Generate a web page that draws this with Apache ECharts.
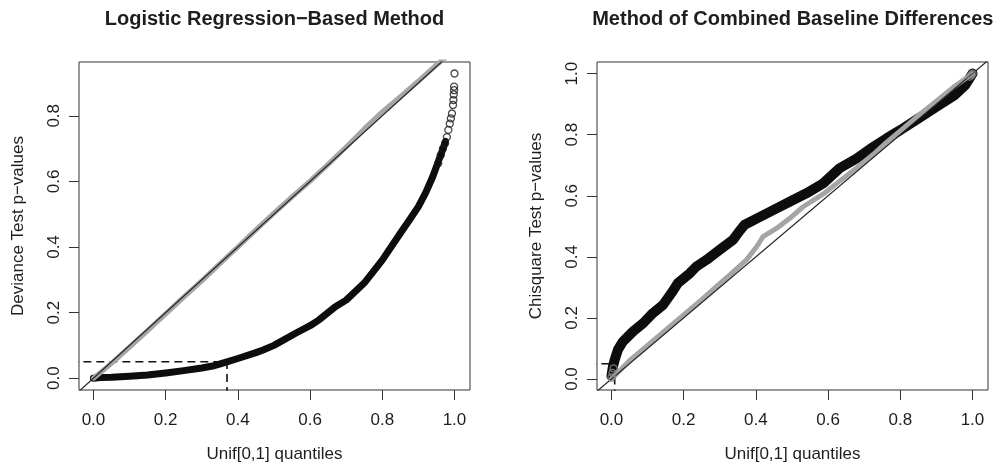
<!DOCTYPE html>
<html>
<head>
<meta charset="utf-8">
<script src="https://cdn.jsdelivr.net/npm/echarts@6/dist/echarts.min.js"></script>
<style>
html,body{margin:0;padding:0;background:#fff;}
#c{width:995px;height:463px;}
</style>
</head>
<body>
<div id="c"></div>
<script>
// ---------- tick labels ----------
const xTicks = [0, 0.2, 0.4, 0.6, 0.8, 1.0];
const leftYTicks = [0, 0.2, 0.4, 0.6, 0.8];
const rightYTicks = [0, 0.2, 0.4, 0.6, 0.8, 1.0];

// ---------- reference lines ----------
const alpha = 0.05;          // significance level (dashed horizontal)
const leftCutoff = 0.37;     // quantile where black curve reaches alpha (left)
const rightCutoff = 0.009;   // quantile where black curve reaches alpha (right)
const diagonal = [-0.1, 1.1];

// ---------- left panel: Logistic Regression-Based Method ----------
const leftBlackX = [0.00, 0.02, 0.05, 0.10, 0.15, 0.20, 0.25, 0.30, 0.33, 0.37, 0.40, 0.45, 0.47, 0.50, 0.56, 0.60, 0.625, 0.67, 0.70, 0.75, 0.80, 0.85, 0.88, 0.90, 0.92, 0.94, 0.95, 0.96, 0.97, 0.975];
const leftBlackY = [0.000, 0.002, 0.003, 0.006, 0.010, 0.016, 0.023, 0.031, 0.037, 0.050, 0.060, 0.078, 0.086, 0.100, 0.137, 0.160, 0.178, 0.218, 0.238, 0.290, 0.360, 0.442, 0.490, 0.523, 0.565, 0.615, 0.645, 0.675, 0.705, 0.722];
const leftTailX = [0.955, 0.962, 0.968, 0.974, 0.979, 0.983, 0.987, 0.990, 0.993, 0.996, 0.997, 0.998, 0.999, 0.999, 1.000];
const leftTailY = [0.655, 0.680, 0.700, 0.716, 0.735, 0.757, 0.776, 0.792, 0.807, 0.833, 0.848, 0.865, 0.878, 0.889, 0.929];
const leftGreyX = [0.00, 0.05, 0.10, 0.15, 0.20, 0.25, 0.30, 0.35, 0.40, 0.45, 0.50, 0.55, 0.60, 0.65, 0.70, 0.75, 0.80, 0.85, 0.90, 0.95, 1.00];
const leftGreyY = [0.000, 0.045, 0.095, 0.145, 0.196, 0.247, 0.297, 0.349, 0.400, 0.452, 0.503, 0.553, 0.601, 0.652, 0.705, 0.760, 0.812, 0.858, 0.906, 0.955, 1.000];

// ---------- right panel: Method of Combined Baseline Differences ----------
const rightBlackX = [0.000, 0.004, 0.009, 0.018, 0.032, 0.060, 0.088, 0.115, 0.143, 0.166, 0.184, 0.217, 0.235, 0.263, 0.300, 0.337, 0.355, 0.369, 0.402, 0.448, 0.503, 0.540, 0.586, 0.632, 0.679, 0.725, 0.762, 0.800, 0.850, 0.900, 0.950, 0.980, 1.000];
const rightBlackY = [0.010, 0.040, 0.063, 0.096, 0.123, 0.156, 0.183, 0.216, 0.243, 0.281, 0.314, 0.346, 0.368, 0.390, 0.423, 0.456, 0.485, 0.505, 0.525, 0.553, 0.586, 0.608, 0.640, 0.690, 0.722, 0.760, 0.788, 0.815, 0.853, 0.891, 0.929, 0.962, 1.000];
const rightGreyX = [0.00, 0.05, 0.10, 0.15, 0.20, 0.25, 0.30, 0.328, 0.374, 0.402, 0.420, 0.457, 0.494, 0.531, 0.586, 0.632, 0.680, 0.725, 0.762, 0.800, 0.850, 0.900, 0.950, 1.000];
const rightGreyY = [0.000, 0.060, 0.110, 0.160, 0.210, 0.260, 0.312, 0.341, 0.390, 0.433, 0.466, 0.493, 0.526, 0.564, 0.605, 0.648, 0.692, 0.735, 0.775, 0.812, 0.862, 0.910, 0.958, 1.000];
const rightEndX = [0.000, 0.003, 0.006, 0.993, 0.997, 1.000];
const rightEndY = [0.005, 0.020, 0.035, 0.990, 0.995, 1.000];

const zip = (xs, ys) => xs.map((x, i) => [x, ys[i]]);

const FONT = 'Liberation Sans';
const TXT = '#1e1e1e';
const AXC = '#333';

function xAxisCfg(gi) {
  return {
    type: 'value', gridIndex: gi, min: -0.04, max: 1.043,
    axisLine: { show: false, onZero: false },
    splitLine: { show: false },
    axisTick: { show: true, inside: false, length: 10, customValues: xTicks, lineStyle: { color: AXC, width: 1 } },
    axisLabel: { customValues: xTicks, formatter: v => Number(v).toFixed(1), fontSize: 17, fontFamily: FONT, color: TXT, margin: 22 },
    name: 'Unif[0,1] quantiles', nameLocation: 'middle', nameGap: 56,
    nameTextStyle: { fontSize: 17, fontFamily: FONT, color: TXT }
  };
}
function yAxisCfg(gi, min, max, ticks, name) {
  return {
    type: 'value', gridIndex: gi, min: min, max: max,
    axisLine: { show: false, onZero: false },
    splitLine: { show: false },
    axisTick: { show: true, inside: false, length: 10, customValues: ticks, lineStyle: { color: AXC, width: 1 } },
    axisLabel: { customValues: ticks, rotate: 90, formatter: v => Number(v).toFixed(1), fontSize: 17, fontFamily: FONT, color: TXT, margin: 16 },
    name: name, nameLocation: 'middle', nameGap: 52, nameRotate: 90,
    nameTextStyle: { fontSize: 17, fontFamily: FONT, color: TXT }
  };
}

function panelSeries(gi, blackX, blackY, greyX, greyY, cutoff, bandW, greyW) {
  return [
    { type: 'line', xAxisIndex: gi, yAxisIndex: gi, silent: true, showSymbol: false, z: 1,
      data: [[diagonal[0], alpha], [cutoff, alpha], [cutoff, diagonal[0]]],
      lineStyle: { color: '#111', width: 1.6, type: [8, 5] } },
    { type: 'line', xAxisIndex: gi, yAxisIndex: gi, silent: true, showSymbol: false, z: 2,
      data: zip(blackX, blackY),
      lineStyle: { color: '#0d0d0d', width: bandW, cap: 'round', join: 'round' } },
    { type: 'line', xAxisIndex: gi, yAxisIndex: gi, silent: true, showSymbol: false, z: 3,
      data: zip(greyX, greyY),
      lineStyle: { color: '#a5a5a5', width: greyW, cap: 'round', join: 'round' } },
    { type: 'line', xAxisIndex: gi, yAxisIndex: gi, silent: true, showSymbol: false, z: 4,
      data: [[diagonal[0], diagonal[0]], [diagonal[1], diagonal[1]]],
      lineStyle: { color: '#222', width: 1.2 } }
  ];
}

const chart = echarts.init(document.getElementById('c'), null, { renderer: 'canvas' });
chart.setOption({
  animation: false,
  backgroundColor: '#fff',
  title: [
    { text: 'Logistic Regression−Based Method', left: 274.5, top: 9, padding: 0, textAlign: 'center',
      textStyle: { fontSize: 20, fontWeight: 'bold', fontFamily: FONT, color: TXT } },
    { text: 'Method of Combined Baseline Differences', left: 792.8, top: 9, padding: 0, textAlign: 'center',
      textStyle: { fontSize: 20, fontWeight: 'bold', fontFamily: FONT, color: TXT } }
  ],
  grid: [
    { left: 79, right: 525, top: 62, bottom: 73, show: true, borderColor: AXC, borderWidth: 1, backgroundColor: 'transparent', containLabel: false, outerBoundsMode: 'none' },
    { left: 597, right: 7, top: 62, bottom: 73, show: true, borderColor: AXC, borderWidth: 1, backgroundColor: 'transparent', containLabel: false, outerBoundsMode: 'none' }
  ],
  xAxis: [xAxisCfg(0), xAxisCfg(1)],
  yAxis: [
    yAxisCfg(0, -0.036, 0.964, leftYTicks, 'Deviance Test p−values'),
    yAxisCfg(1, -0.036, 1.038, rightYTicks, 'Chisquare Test p−values')
  ],
  series: [].concat(
    panelSeries(0, leftBlackX, leftBlackY, leftGreyX, leftGreyY, leftCutoff, 7, 5),
    [{ type: 'scatter', xAxisIndex: 0, yAxisIndex: 0, silent: true, z: 5,
       data: zip(leftTailX, leftTailY), symbol: 'circle', symbolSize: 7,
       itemStyle: { color: 'rgba(255,255,255,0)', borderColor: '#1a1a1a', borderWidth: 1.3 } }],
    panelSeries(1, rightBlackX, rightBlackY, rightGreyX, rightGreyY, rightCutoff, 10, 5),
    [{ type: 'scatter', xAxisIndex: 1, yAxisIndex: 1, silent: true, z: 5,
       data: zip(rightEndX, rightEndY), symbol: 'circle', symbolSize: 7,
       itemStyle: { color: 'rgba(255,255,255,0)', borderColor: '#8a8a8a', borderWidth: 1.3 } }]
  )
});
</script>
</body>
</html>
